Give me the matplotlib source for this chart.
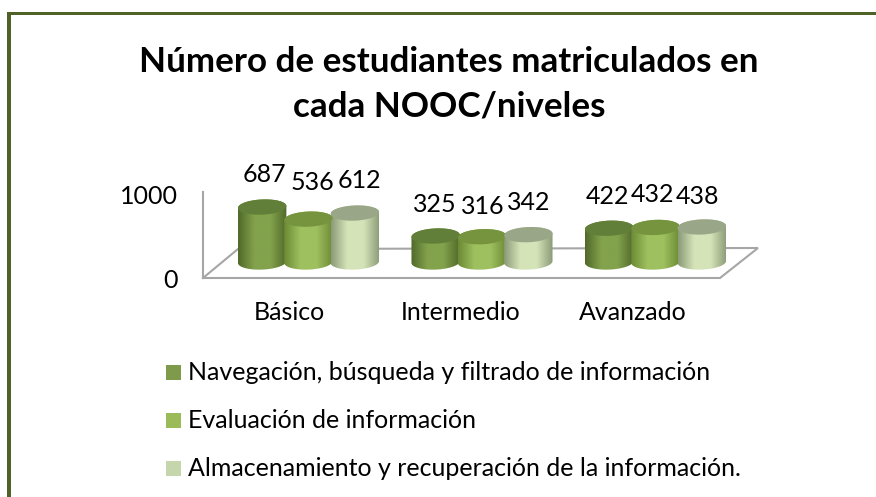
import numpy as np
import matplotlib
matplotlib.use('Agg')
import matplotlib.pyplot as plt
from matplotlib.colors import LinearSegmentedColormap
from matplotlib.patches import PathPatch, Rectangle
from matplotlib.path import Path

# Dados do gráfico
categorias = ['Básico', 'Intermedio', 'Avanzado']
navegacion = [687, 325, 422]
evaluacion = [536, 316, 432]
almacenamiento = [612, 342, 438]
nomes_series = ['Navegación, búsqueda y filtrado de información',
                'Evaluación de información',
                'Almacenamiento y recuperación de la información.']
ticks_y = [0, 1000]
titulo = 'Número de estudiantes matriculados en\ncada NOOC/niveles'

plt.rcParams['font.family'] = ['Lato', 'DejaVu Sans']

L, A = 876, 497
fig = plt.figure(figsize=(L / 100, A / 100), dpi=100, facecolor='white')

# Eixo de pixels para moldura, piso e textos
deco = fig.add_axes([0, 0, 1, 1], zorder=1)
deco.set_xlim(0, L)
deco.set_ylim(A, 0)
deco.axis('off')

# Eixo de dados: categoria em x, valor em y
px_cat = 173.5
px_val = 0.08
x0_px, y0_px = 308.5, 262
ax = fig.add_axes([0, 0, 1, 1], zorder=2)
ax.patch.set_alpha(0)
limx = (-x0_px / px_cat, (L - x0_px) / px_cat)
limy = ((y0_px - A) / px_val, y0_px / px_val)
ax.axis('off')

# Moldura verde (só topo e esquerda)
verde = '#4f6228'
deco.add_patch(Rectangle((7, 12), L - 7, 3.2, color=verde, lw=0))
deco.add_patch(Rectangle((7, 12), 3.8, A - 12, color=verde, lw=0))

# Paredes e piso
cinza = '#a6a6a6'
deco.plot([203, 203, 720, 758, 238, 203], [192, 278, 278, 248, 249, 278],
          color=cinza, lw=1.5, solid_joinstyle='miter')

# Cores: borda, meio, topo, legenda
estilos = [('#50692a', '#83a24c', '#617f38', '#7f9a4b'),
           ('#6b8a35', '#9fc05f', '#76933d', '#9bbb59'),
           ('#8b9a77', '#d5e4b8', '#99a688', '#c6d6ac')]
deslocs = [-0.267, 0.0, 0.267]
meia_larg = 24.2 / px_cat
ry = 7.6 / px_val
incl = 0.04 * px_cat / px_val


def elipse(cx, cy, t):
    xs = cx + meia_larg * np.cos(t)
    ys = cy + ry * np.sin(t) + incl * (xs - cx)
    return xs, ys


def cilindro(cx, valor, estilo):
    borda, meio, topo, _ = estilo
    cmap = LinearSegmentedColormap.from_list(
        'c', [borda, meio, meio, borda], N=128)
    tb = np.linspace(np.pi, 2 * np.pi, 40)
    tt = np.linspace(0, np.pi, 40)
    xb, yb = elipse(cx, 0, tb)
    xt, yt = elipse(cx, valor, tt)
    pts = np.column_stack([np.r_[xb, xt], np.r_[yb, yt]])
    corpo = PathPatch(Path(np.vstack([pts, pts[0]]), closed=True),
                      fc='none', ec='none')
    ax.add_patch(corpo)
    grad = np.linspace(0, 1, 128).reshape(1, -1)
    im = ax.imshow(grad, cmap=cmap, aspect='auto', interpolation='bilinear',
                   extent=(cx - meia_larg, cx + meia_larg,
                           -2 * ry, valor + 2 * ry))
    im.set_clip_path(corpo)
    t = np.linspace(0, 2 * np.pi, 80)
    xe, ye = elipse(cx, valor, t)
    ax.fill(xe, ye, color=topo, lw=0, zorder=3)


series = [navegacion, evaluacion, almacenamiento]
for i in range(len(categorias)):
    for s, d, est in zip(series, deslocs, estilos):
        cilindro(i + d, s[i], est)
ax.set_xlim(limx)
ax.set_ylim(limy)

# Rótulos de dados
pos_rotulos = [[(264, 174), (312, 183), (359, 181)],
               [(435, 204), (483, 206), (529, 203)],
               [(607, 196), (652, 194), (697, 197)]]
for i in range(len(categorias)):
    for j, s in enumerate(series):
        px, py = pos_rotulos[i][j]
        deco.text(px, py, str(s[i]), fontsize=18, ha='center', va='center',
                  color='black')

# Textos dos eixos
for v, py in zip(ticks_y, [281, 196]):
    deco.text(178, py, str(v), fontsize=18, ha='right', va='center')
for c, px in zip(categorias, [289, 461, 633]):
    deco.text(px, 312, c, fontsize=18, ha='center', va='center')

# Título
deco.text(449, 84, titulo, fontsize=25.2, fontweight='bold', ha='center',
          va='center', linespacing=1.5)

# Legenda
for nome, est, py in zip(nomes_series, estilos, [372, 420, 468]):
    deco.add_patch(Rectangle((166, py - 7.5), 15, 15, color=est[3], lw=0))
    deco.text(188, py, nome, fontsize=18, ha='left', va='center')

fig.savefig('out.png', dpi=100)
